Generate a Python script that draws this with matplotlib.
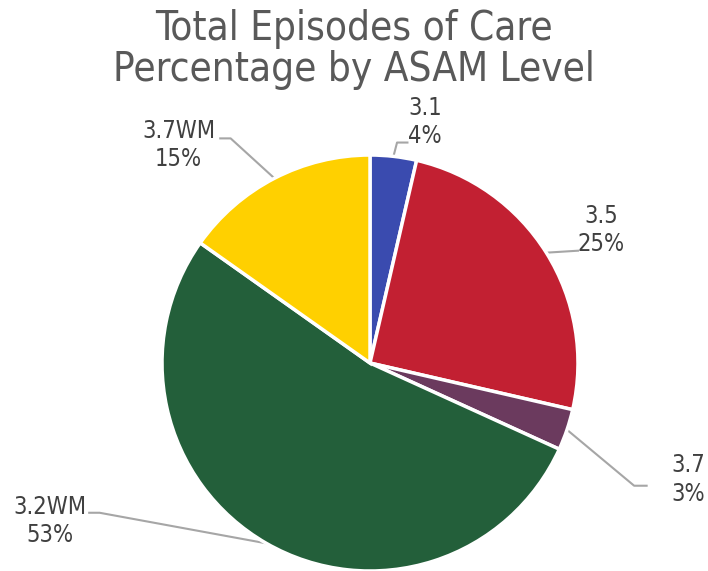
import numpy as np
import matplotlib.pyplot as plt

plt.rcParams['font.family'] = ['DejaVu Sans']
plt.rcParams['font.stretch'] = 'condensed'

levels = ['3.1', '3.5', '3.7', '3.2WM', '3.7WM']
shares = [3.6, 25.0, 3.2, 53.0, 15.2]
colors = ['#3A4BAF', '#C22032', '#6B3A5E', '#235F3A', '#FFD000']

# label placement: text centre and leader elbow, in pie units (radius = 1)
label_pos = [(0.265, 1.16), (1.11, 0.64), (1.53, -0.56), (-1.54, -0.76), (-0.92, 1.05)]
elbows = [(0.13, 1.06), (1.00, 0.54), (1.27, -0.59), (-1.30, -0.72), (-0.67, 1.08)]
ends = [(0.18, 1.06), (1.00, 0.54), (1.33, -0.59), (-1.35, -0.72), (-0.72, 1.08)]

fig = plt.figure(figsize=(7.08, 5.71), dpi=100)
ax = fig.add_axes([0.2288, 0.0, 0.5876, 0.7285])

wedges, _ = ax.pie(shares, colors=colors, startangle=90, counterclock=False,
                   wedgeprops=dict(edgecolor='white', linewidth=2.5))
ax.set_xlim(-1, 1)
ax.set_ylim(-1, 1)
ax.set_aspect('equal')

for w, name, val, pos, elb, end in zip(wedges, levels, shares, label_pos, elbows, ends):
    mid = np.deg2rad((w.theta1 + w.theta2) / 2)
    x0, y0 = np.cos(mid), np.sin(mid)
    ax.plot([x0, elb[0], end[0]], [y0, elb[1], end[1]], color='#A6A6A6',
            linewidth=1.5, clip_on=False, zorder=0)
    ax.text(pos[0], pos[1], f'{name}\n{val:.0f}%', ha='center', va='center',
            fontsize=17, color='#404040', linespacing=1.22, clip_on=False)

fig.text(0.5, 0.985, 'Total Episodes of Care\nPercentage by ASAM Level',
         ha='center', va='top', fontsize=29, color='#595959', linespacing=1.05)

fig.savefig('out.png', dpi=100)
